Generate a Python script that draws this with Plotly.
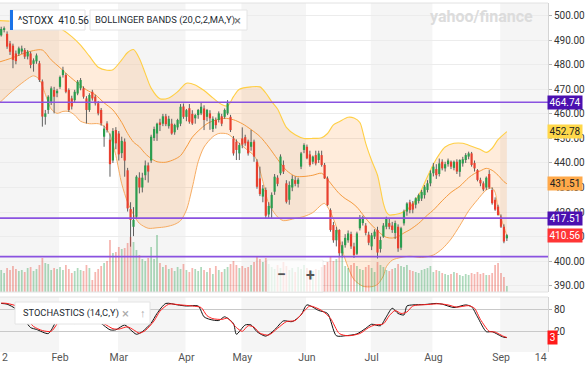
import plotly.graph_objects as go

# ---------------- data ----------------
# trading-day index 0 = 3 Jan 2022 ... 173 = 5 Sep 2022
open_ = [488.0, 492.0, 494.2, 492.6, 488.7, 487.8, 484.6, 484.5, 485.4, 486.0,
         483.4, 484.6, 480.4, 481.4, 480.6, 473.2, 458.8, 461.6, 465.0, 469.7,
         468.4, 471.0, 475.8, 475.8, 469.7, 466.3, 465.6, 468.3, 470.4, 470.4,
         466.3, 461.6, 469.0, 467.0, 464.3, 461.6, 450.7, 456.1, 449.5, 441.0,
         453.4, 452.0, 444.0, 448.7, 437.0, 421.2, 414.0, 418.1, 434.0, 430.0,
         435.0, 439.0, 441.0, 450.2, 452.0, 456.5, 456.0, 459.0, 455.0, 456.0,
         452.5, 454.5, 456.0, 463.0, 458.8, 462.3, 460.0, 458.2, 459.5, 460.2,
         462.2, 458.8, 460.2, 453.8, 457.5, 457.5, 459.0, 458.8, 460.2, 458.8,
         450.0, 448.7, 443.9, 450.0, 450.5, 448.7, 446.6, 448.7, 440.5, 433.7,
         426.3, 429.0, 419.0, 421.5, 428.3, 434.0, 435.8, 439.2, 431.7, 425.0,
         430.0, 433.0, 431.5, 438.5, 445.3, 446.6, 443.5, 440.5, 443.2, 441.2,
         443.2, 439.2, 433.7, 420.8, 414.7, 408.5, 412.7, 403.2, 406.5, 408.5,
         411.0, 406.0, 403.0, 413.4, 415.5, 414.5, 410.8, 406.0, 410.0, 412.7,
         405.0, 410.0, 414.0, 415.5, 414.5, 411.5, 414.0, 405.5, 415.4, 420.2,
         424.0, 423.5, 423.0, 424.5, 425.5, 426.9, 429.0, 431.7, 435.8, 437.5,
         435.5, 440.5, 437.8, 439.5, 440.5, 438.0, 440.5, 436.4, 439.8, 441.2,
         442.6, 443.9, 440.0, 437.1, 433.1, 431.7, 430.0, 435.5, 429.0, 425.0,
         422.2, 418.1, 414.0, 409.3]
high = [492.5, 495.5, 495.6, 493.6, 489.7, 488.6, 485.8, 487.4, 487.8, 486.8,
        486.0, 485.4, 482.6, 484.6, 481.6, 474.0, 461.6, 467.6, 471.2, 471.0,
        470.2, 475.6, 479.2, 476.6, 470.4, 467.4, 469.8, 473.8, 474.6, 471.2,
        467.2, 468.4, 469.8, 467.8, 465.2, 462.4, 455.2, 457.0, 452.0, 454.2,
        454.6, 453.0, 450.7, 450.0, 438.0, 424.0, 422.0, 435.0, 436.2, 436.0,
        441.0, 440.2, 451.5, 454.8, 456.4, 458.0, 460.0, 460.0, 459.2, 458.0,
        456.0, 458.0, 464.0, 464.2, 462.0, 464.0, 461.5, 460.0, 462.0, 464.5,
        463.5, 462.0, 461.5, 459.0, 458.5, 461.0, 460.0, 462.2, 465.6, 459.6,
        451.0, 449.6, 448.2, 454.5, 451.5, 449.5, 453.5, 449.5, 441.5, 438.5,
        431.0, 430.0, 424.0, 428.0, 435.5, 435.0, 443.5, 441.0, 433.0, 432.5,
        435.0, 434.5, 434.0, 444.5, 448.0, 447.5, 445.0, 443.0, 445.0, 445.0,
        445.0, 440.0, 434.5, 421.5, 416.0, 414.0, 413.0, 408.0, 411.0, 412.5,
        412.0, 407.5, 412.0, 418.8, 418.5, 415.5, 412.0, 411.5, 413.0, 414.0,
        410.0, 415.5, 418.1, 417.5, 416.0, 416.5, 415.0, 414.0, 421.0, 424.0,
        425.0, 424.5, 426.0, 427.5, 429.0, 431.0, 433.0, 437.0, 440.0, 439.5,
        441.8, 441.5, 440.5, 441.8, 441.0, 441.0, 441.5, 441.5, 442.5, 444.0,
        444.6, 444.5, 441.0, 437.5, 434.0, 432.5, 434.5, 437.1, 430.0, 426.0,
        423.0, 419.0, 415.0, 411.0]
low = [487.0, 491.5, 493.2, 486.5, 484.0, 478.6, 480.2, 483.6, 484.4, 482.4,
       482.2, 478.6, 477.2, 480.4, 473.0, 454.8, 455.6, 460.0, 463.6, 460.2,
       466.8, 470.2, 474.8, 468.4, 460.8, 461.8, 464.6, 467.6, 469.6, 466.2,
       456.1, 460.8, 465.4, 463.4, 459.4, 455.2, 446.6, 452.4, 434.4, 440.0,
       445.6, 441.0, 442.0, 434.4, 420.2, 405.9, 410.2, 417.4, 427.6, 428.0,
       433.0, 432.0, 440.0, 449.0, 449.0, 453.0, 455.0, 455.0, 454.0, 451.5,
       451.5, 453.5, 455.0, 458.0, 457.0, 456.0, 455.5, 456.0, 458.0, 459.5,
       453.4, 457.0, 453.5, 452.6, 454.0, 456.5, 455.0, 458.0, 459.5, 452.6,
       443.0, 441.2, 441.2, 446.0, 447.0, 443.0, 445.0, 440.5, 429.5, 426.5,
       424.0, 417.5, 417.6, 417.5, 427.0, 430.5, 435.0, 435.5, 423.5, 423.0,
       428.5, 430.5, 430.0, 437.5, 444.0, 441.5, 438.5, 439.5, 439.0, 440.0,
       438.5, 433.5, 422.5, 412.0, 407.5, 406.0, 402.0, 401.5, 405.5, 407.5,
       405.0, 401.3, 402.5, 412.5, 414.5, 410.5, 406.5, 404.5, 409.0, 401.1,
       403.5, 409.5, 413.0, 413.0, 411.5, 409.0, 403.8, 404.5, 414.5, 418.5,
       419.5, 419.5, 421.5, 423.5, 424.5, 425.5, 428.0, 430.5, 434.5, 433.5,
       434.5, 437.0, 436.5, 438.5, 437.5, 437.0, 435.5, 434.4, 438.5, 440.0,
       441.5, 438.5, 436.5, 432.5, 430.5, 428.5, 429.0, 429.5, 423.0, 420.5,
       418.5, 413.5, 407.3, 408.2]
close = [491.5, 494.6, 494.9, 487.4, 485.3, 482.0, 481.5, 486.7, 486.6, 483.3,
         485.3, 479.9, 481.8, 483.8, 473.8, 458.9, 460.2, 467.0, 470.4, 467.0,
         469.4, 475.0, 477.9, 469.0, 461.6, 463.0, 469.0, 473.1, 473.8, 467.0,
         461.6, 467.7, 466.3, 464.3, 460.2, 456.1, 454.0, 453.4, 439.5, 453.0,
         448.0, 443.5, 449.0, 441.0, 421.5, 416.8, 416.8, 434.4, 430.0, 434.0,
         439.0, 436.5, 450.7, 453.8, 456.0, 455.5, 459.0, 455.8, 458.0, 452.0,
         455.5, 457.5, 462.9, 458.8, 461.5, 456.8, 456.1, 459.5, 461.6, 462.9,
         457.5, 461.6, 458.2, 458.0, 455.4, 460.2, 456.0, 461.6, 464.3, 453.4,
         443.9, 445.3, 447.3, 447.5, 448.0, 443.9, 448.5, 442.6, 430.3, 427.3,
         429.6, 418.5, 422.5, 427.0, 434.4, 431.5, 442.6, 436.5, 424.2, 431.0,
         433.5, 431.5, 433.2, 443.9, 447.3, 441.9, 439.2, 442.6, 439.8, 443.9,
         439.2, 433.7, 422.9, 412.7, 408.5, 412.7, 403.2, 406.5, 409.5, 411.3,
         406.0, 402.5, 411.3, 417.5, 417.8, 411.5, 407.5, 410.5, 412.0, 403.5,
         408.6, 414.5, 417.2, 414.0, 412.7, 415.5, 405.2, 413.4, 420.2, 423.5,
         420.8, 421.0, 425.6, 426.9, 428.2, 430.3, 431.7, 435.8, 438.5, 435.0,
         439.8, 437.8, 439.5, 441.0, 438.5, 440.5, 436.5, 441.2, 441.5, 443.2,
         443.9, 439.2, 437.8, 433.1, 431.7, 429.2, 434.0, 430.0, 423.6, 421.0,
         418.8, 414.0, 408.0, 410.56]
volume_m = [20, 22, 19, 24, 22, 26, 23, 21, 22, 20, 24, 25, 21, 23, 27, 34, 29, 28, 22, 24, 23,
            25, 22, 27, 23, 19, 21, 24, 22, 21, 27, 24, 12, 20, 23, 26, 29, 31, 52, 39, 40,
            45, 43, 44, 49, 55, 50, 42, 37, 33, 31, 34, 45, 33, 57, 29, 25, 27, 23, 24, 21, 25, 23, 28,
            22, 20, 24, 23, 21, 25, 22, 20, 24, 18, 26, 22, 20, 23, 25, 28, 31, 27, 24,
            26, 24, 25, 27, 30, 35, 33, 30, 34, 28, 25, 23, 27, 24, 30, 26, 22, 24, 20, 25, 23, 27,
            24, 22, 21, 23, 22, 25, 27, 30, 35, 31, 33, 36, 45, 26, 24, 27, 29, 26, 23, 22, 25, 27,
            24, 20, 30, 27, 25, 22, 21, 23, 24, 28, 26, 25, 27, 22, 21, 20, 19, 22, 23, 24, 26,
            20, 22, 21, 19, 18, 17, 18, 20, 19, 17, 16, 18, 17, 19, 18, 20, 18, 19, 17, 17, 19, 27, 29,
            19, 15, 6]

# Bollinger bands (20,2) read at sample days
bb_up_day = [0, 4, 8, 12, 16, 21, 25, 28, 31, 34, 37, 39, 42, 44, 46, 48, 50, 52, 55, 58, 61, 64,
             67, 70, 73, 76, 78, 80, 82, 86, 89, 91, 93, 95, 98, 101, 104, 107, 110, 112, 114, 116,
             119, 121, 123, 124, 125, 127, 129, 131, 132, 133, 135, 137, 140, 143, 146, 148, 150,
             152, 155, 158, 161, 164, 166, 168, 170, 173]
bb_up = [498.0, 497.8, 497.6, 497.2, 496.5, 494.8, 491.5, 488.0, 483.5, 479.0, 477.8, 478.0, 482.0,
         485.0, 486.2, 482.6, 476.5, 470.5, 466.2, 466.5, 469.0, 472.5, 471.8, 469.5, 466.5, 463.8,
         463.2, 467.0, 470.0, 471.0, 471.0, 468.5, 465.0, 462.0, 454.5, 451.5, 450.0, 450.0, 450.3,
         452.0, 455.5, 456.8, 458.6, 458.3, 456.5, 452.7, 448.0, 441.0, 435.0, 423.5, 420.0, 418.8,
         419.0, 419.6, 422.0, 426.8, 434.5, 439.5, 443.5, 446.5, 448.0, 448.0, 446.8, 445.5, 444.3,
         446.0, 449.5, 452.78]
bb_mid_day = [0, 4, 8, 12, 15, 18, 21, 24, 27, 30, 33, 36, 39, 42, 44, 46, 48, 50, 52, 54, 57, 60,
              62, 64, 66, 68, 71, 74, 77, 80, 83, 86, 89, 92, 95, 98, 101, 104, 107, 110, 112, 114,
              116, 118, 120, 122, 124, 126, 128, 130, 132, 134, 136, 138, 140, 143, 146, 148, 151,
              154, 157, 160, 162, 164, 166, 168, 170, 172, 173]
bb_mid = [481.0, 482.5, 484.3, 485.8, 486.0, 482.0, 478.8, 475.5, 472.5, 469.8, 467.8, 464.5, 461.6,
          456.5, 452.0, 448.5, 446.6, 443.8, 441.8, 440.5, 440.3, 441.5, 443.0, 446.5, 450.5, 453.0,
          456.0, 457.5, 458.2, 457.6, 456.0, 453.6, 450.8, 446.5, 441.5, 437.0, 434.6, 434.5, 435.0,
          435.8, 433.3, 430.3, 427.5, 425.5, 424.0, 422.0, 419.0, 416.0, 413.5, 411.3, 409.7, 409.4,
          410.0, 411.5, 412.8, 415.4, 418.8, 420.8, 424.6, 428.0, 430.5, 434.0, 435.7, 436.8, 437.8,
          437.0, 435.0, 432.4, 431.51]
bb_lo_day = [0, 4, 8, 12, 14, 16, 18, 20, 22, 24, 26, 28, 31, 34, 36, 38, 40, 42, 44, 46, 48, 51,
             54, 57, 60, 62, 64, 66, 68, 70, 73, 75, 78, 81, 84, 87, 88, 90, 92, 95, 97, 101, 104,
             107, 110, 111, 113, 115, 117, 119, 121, 124, 127, 129, 131, 132, 134, 137, 140, 144,
             148, 151, 154, 157, 160, 163, 166, 168, 169, 170, 171, 172, 173]
bb_lo = [464.0, 468.5, 472.5, 475.5, 474.0, 468.0, 462.0, 460.2, 461.0, 461.0, 459.5, 457.0, 456.0,
         456.0, 455.0, 451.5, 443.0, 431.5, 424.0, 419.0, 415.4, 413.4, 413.6, 414.0, 415.0, 416.5,
         420.8, 430.0, 440.5, 446.5, 450.7, 452.0, 451.8, 449.0, 446.0, 443.0, 441.0, 432.5, 423.5,
         418.0, 416.5, 417.4, 418.2, 419.8, 423.0, 423.5, 420.0, 414.0, 404.5, 397.5, 392.5, 389.8,
         389.6, 390.5, 394.0, 397.7, 400.4, 401.5, 402.0, 401.5, 402.5, 405.0, 409.0, 414.5, 420.5,
         425.0, 429.0, 429.8, 428.0, 421.5, 417.5, 414.0, 410.24]

# Stochastics (14, C) %K (black) and %D (red), read at sample days
stoch_k_day = [1, 3, 6, 9, 11, 13, 17, 19, 21, 23, 25, 26, 28, 30, 33, 35, 38, 40, 43, 45, 47, 49,
               52, 54, 57, 61, 64, 68, 70, 72, 75, 77, 80, 81, 84, 86, 88, 91, 94, 97, 100, 103,
               105, 109, 112, 115, 118, 122, 125, 127, 130, 132, 134, 136, 138, 139, 141, 145, 149,
               151, 155, 159, 161, 163, 166, 168, 171, 172, 173]
stoch_k = [95, 93, 80, 50, 30, 25, 14, 37, 70, 85, 52, 41, 50, 43, 46, 41, 24, 24, 37, 24, 12, 19,
           42, 68, 95, 91, 88, 88, 59, 52, 49, 59, 41, 12, 37, 37, 19, 7, 24, 48, 46, 64, 91, 76,
           68, 8, 8, 13, 28, 39, 35, 59, 82, 68, 64, 88, 91, 92, 95, 93, 84, 91, 86, 59, 19, 19,
           7, 4, 3.0]
stoch_d_day = [1, 3, 7, 10, 12, 15, 18, 20, 22, 24, 26, 27, 29, 31, 34, 36, 39, 41, 44, 46, 48, 50,
               53, 55, 58, 62, 66, 69, 71, 73, 76, 78, 81, 83, 85, 87, 89, 92, 95, 98, 101, 104,
               106, 110, 113, 116, 119, 123, 126, 128, 131, 133, 135, 137, 139, 141, 146, 150, 153,
               156, 160, 162, 164, 167, 169, 171, 172, 173]
stoch_d = [96, 95, 85, 52, 33, 22, 20, 40, 68, 75, 52, 46, 47, 44, 44, 40, 27, 26, 32, 24, 15, 22,
           48, 74, 93, 91, 88, 84, 62, 54, 52, 55, 30, 20, 35, 31, 15, 10, 28, 46, 49, 74, 88, 76,
           55, 14, 8, 14, 30, 37, 40, 62, 76, 68, 72, 88, 92, 94, 91, 85, 89, 82, 52, 20, 18, 10,
           6, 3.4]

levels = [464.74, 417.51, 401.83]              # drawn support / resistance lines
month_start_day = [21, 41, 64, 83, 105, 127, 148, 171]   # first trading day Feb..Sep
tick_day = [2.3, 21, 41, 64, 83, 105, 127, 148, 171, 184.5]
tick_text = ["2", "Feb", "Mar", "Apr", "May", "Jun", "Jul", "Aug", "Sep", "14"]

# ---------------- layout geometry ----------------
W, H = 586, 372
ML, MR, MT, MB = 0, 38, 3, 20
PW, PH = W - ML - MR, H - MT - MB
XR = [0.592, 186.99]
MAIN_BOTTOM = (H - MB - 292) / PH
STOCH_TOP = (H - MB - 297) / PH


def px(xp):
    return (xp - ML) / PW


def py(yp):
    return (H - MB - yp) / PH


UP, DOWN, WICK = "#2a9d4f", "#e8402f", "#5f5f5f"
n = len(close)
days = list(range(n))

fig = go.Figure()

# Bollinger band
fig.add_trace(go.Scatter(x=bb_lo_day, y=bb_lo, mode="lines", hoverinfo="skip",
                         line=dict(color="#f7ac62", width=1, shape="spline", smoothing=0.8)))
fig.add_trace(go.Scatter(x=bb_up_day, y=bb_up, mode="lines", hoverinfo="skip", fill="tonexty",
                         fillcolor="rgba(255,145,40,0.17)",
                         line=dict(color="#ffcf45", width=1.1, shape="spline", smoothing=0.8)))
fig.add_trace(go.Scatter(x=bb_mid_day, y=bb_mid, mode="lines", hoverinfo="skip",
                         line=dict(color="#f59b3f", width=1, shape="spline", smoothing=0.8)))

# candle wicks
wx, wy = [], []
for i in days:
    wx += [i, i, None]
    wy += [low[i], high[i], None]
fig.add_trace(go.Scatter(x=wx, y=wy, mode="lines", hoverinfo="skip",
                         line=dict(color=WICK, width=1)))
# candle bodies
for up, col in ((True, UP), (False, DOWN)):
    bx, by = [], []
    for i in days:
        if (close[i] >= open_[i]) == up:
            bx += [i, i, None]
            by += [open_[i], close[i], None]
    fig.add_trace(go.Scatter(x=bx, y=by, mode="lines", hoverinfo="skip",
                             line=dict(color=col, width=2.2)))

# volume
vcol = ["rgba(42,157,79,0.38)" if close[i] >= open_[i] else "rgba(232,64,47,0.38)" for i in days]
fig.add_trace(go.Bar(x=days, y=volume_m, yaxis="y3", width=0.6, marker=dict(color=vcol, line_width=0),
                     hoverinfo="skip"))

# stochastics
fig.add_trace(go.Scatter(x=stoch_k_day, y=stoch_k, xaxis="x2", yaxis="y2", mode="lines",
                         line=dict(color="#111111", width=1, shape="spline", smoothing=0.7)))
fig.add_trace(go.Scatter(x=stoch_d_day, y=stoch_d, xaxis="x2", yaxis="y2", mode="lines",
                         line=dict(color="#ff1f1f", width=1, shape="spline", smoothing=0.7)))

shapes = []
# month shading
edges = [XR[0]] + [d - 0.3 for d in month_start_day] + [XR[1]]
for k in range(0, len(edges) - 1, 2):
    for yr in ("y domain", "y2 domain"):
        shapes.append(dict(type="rect", xref="x", yref=yr, x0=edges[k], x1=edges[k + 1], y0=0, y1=1,
                           fillcolor="rgba(0,0,0,0.04)", line=dict(width=0), layer="below"))
# panel borders
for yy in (1, MAIN_BOTTOM, STOCH_TOP):
    shapes.append(dict(type="line", xref="paper", yref="paper", x0=0, x1=1, y0=yy, y1=yy,
                       line=dict(color="#e2e2e2", width=1)))
# horizontal level lines
for lv in levels:
    shapes.append(dict(type="line", xref="paper", yref="y", x0=0, x1=1, y0=lv, y1=lv,
                       line=dict(color="#8a52e0", width=1.6), layer="above"))
# legend boxes
shapes.append(dict(type="rect", xref="paper", yref="paper", x0=px(10), x1=px(85), y0=py(30), y1=py(10),
                   fillcolor="white", line=dict(color="#e4e4e4", width=1), layer="above"))
shapes.append(dict(type="rect", xref="paper", yref="paper", x0=px(10), x1=px(13), y0=py(30), y1=py(10),
                   fillcolor="#1a73e8", line=dict(width=0), layer="above"))
shapes.append(dict(type="rect", xref="paper", yref="paper", x0=px(90), x1=px(247), y0=py(30), y1=py(10),
                   fillcolor="white", line=dict(color="#e4e4e4", width=1), layer="above"))
shapes.append(dict(type="rect", xref="paper", yref="paper", x0=px(15), x1=px(150), y0=py(324), y1=py(302),
                   fillcolor="white", line=dict(color="#e4e4e4", width=1), layer="above"))
# zoom widget
shapes.append(dict(type="rect", xref="paper", yref="paper", x0=px(267), x1=px(323), y0=py(292), y1=py(260),
                   fillcolor="rgba(255,255,255,0.72)", line=dict(color="rgba(0,0,0,0.06)", width=1),
                   layer="above"))

ann = []
def text(xp, yp, s, size=11, color="#232a31", xanchor="left", **kw):
    ann.append(dict(x=px(xp), y=py(yp), xref="paper", yref="paper", text=s, showarrow=False,
                    xanchor=xanchor, yanchor="middle", font=dict(size=size, color=color), **kw))

text(16, 20, f"^STOXX&nbsp;&nbsp;{close[-1]:.2f}", size=10)
text(93, 20, "BOLLINGER BANDS (20,C,2,MA,Y)", size=9.4)
text(237, 20, "×", size=13, color="#777", xanchor="center")
text(21, 313, "STOCHASTICS (14,C,Y)", size=9.3)
text(125, 313, "×", size=13, color="#aaa", xanchor="center")
text(143, 313, "↑", size=11, color="#aaa", xanchor="center")
text(481, 16, "<b>yahoo/finance</b>", size=16, color="#dcdcdc", xanchor="center")
text(281, 274, "<b>−</b>", size=16, color="#555", xanchor="center")
text(310, 275, "<b>+</b>", size=16, color="#555", xanchor="center")

# price tags on the right axis
tags = [(levels[0], "#4b10b0", "white"), (bb_up[-1], "#ffd84a", "#222"), (bb_mid[-1], "#ffa94a", "#222"),
        (levels[1], "#4b10b0", "white"), (close[-1], "#ff3535", "white")]
for v, bg, fg in tags:
    ann.append(dict(x=1, xref="paper", y=v, yref="y", xanchor="left", xshift=-1, text=f"{v:.2f}",
                    showarrow=False, bgcolor=bg, font=dict(size=10, color=fg), width=34, height=13,
                    borderpad=0, align="center"))
ann.append(dict(x=1, xref="paper", y=stoch_d[-1], yref="y2", xanchor="left", xshift=-1,
                text=f"{int(stoch_d[-1])}", showarrow=False, bgcolor="#ff1a1a",
                font=dict(size=10, color="white"), width=9, height=13, borderpad=0))

fig.update_layout(
    width=W, height=H, margin=dict(l=ML, r=MR, t=MT, b=MB, pad=0),
    paper_bgcolor="white", plot_bgcolor="white", showlegend=False, barmode="overlay",
    hovermode=False,
    font=dict(family="Roboto, Liberation Sans, sans-serif", size=11, color="#333"),
    xaxis=dict(domain=[0, 1], range=XR, anchor="y", showticklabels=False, showgrid=False,
               zeroline=False, ticks=""),
    xaxis2=dict(domain=[0, 1], range=XR, anchor="y2", matches="x", tickmode="array", tickvals=tick_day,
                ticktext=tick_text, showgrid=False, zeroline=False, ticks="",
                tickfont=dict(size=10.5, color="#555"), ticklabelstandoff=-3),
    yaxis=dict(domain=[MAIN_BOTTOM, 1], range=[387.43, 505.17], side="right", anchor="x", dtick=10,
               tick0=0, tickformat=".2f", showgrid=True, gridcolor="#ececec", ticks="outside", ticklen=3,
               tickcolor="#b5b5b5", showline=True, linecolor="#d4d4d4", zeroline=False,
               tickfont=dict(size=10, color="#333")),
    yaxis2=dict(domain=[0, STOCH_TOP], range=[-35.7, 112.3], side="right", anchor="x2",
                tickmode="array", tickvals=[20, 80], showgrid=True, gridcolor="#c9c9c9", ticks="outside",
                ticklen=3, tickcolor="#b5b5b5", showline=True, linecolor="#d4d4d4", zeroline=False,
                tickfont=dict(size=10, color="#333")),
    yaxis3=dict(overlaying="y", range=[0, 289], visible=False),
    shapes=shapes, annotations=ann,
)

fig.write_html("out.html", config={"displayModeBar": False, "staticPlot": True},
               post_script="document.body.style.margin='0';document.body.style.padding='0';")
